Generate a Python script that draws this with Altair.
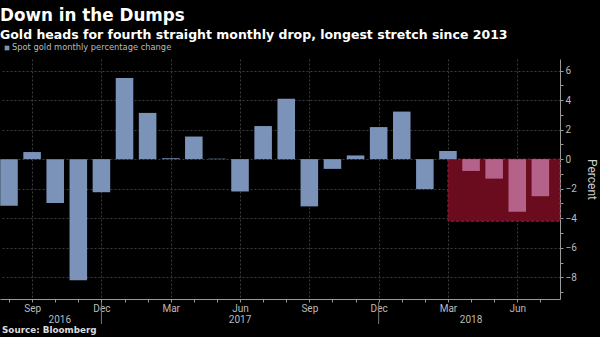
import altair as alt
import pandas as pd

# ---- data ----
months = ["Aug 2016", "Sep 2016", "Oct 2016", "Nov 2016", "Dec 2016",
          "Jan 2017", "Feb 2017", "Mar 2017", "Apr 2017", "May 2017", "Jun 2017",
          "Jul 2017", "Aug 2017", "Sep 2017", "Oct 2017", "Nov 2017", "Dec 2017",
          "Jan 2018", "Feb 2018", "Mar 2018", "Apr 2018", "May 2018", "Jun 2018", "Jul 2018"]
values = [-3.15, 0.48, -2.97, -8.2, -2.24,
          5.5, 3.13, 0.06, 1.53, 0.03, -2.19,
          2.24, 4.09, -3.2, -0.66, 0.25, 2.17,
          3.22, -2.03, 0.55, -0.8, -1.32, -3.56, -2.51]
streak = ["no"] * 20 + ["yes"] * 4
tick_labels = ["", "Sep", "", "", "Dec", "", "", "Mar", "", "", "Jun", "",
               "", "Sep", "", "", "Dec", "", "", "Mar", "", "", "Jun", ""]
years = ["2016", "2017", "2018"]
year_pos = [2.2, 10.0, 20.0]
year_breaks = [4, 16]
box_start = [19]
box_low = [-4.2]

X_MIN, X_MAX = -0.39, 23.85
Y_MIN, Y_MAX = -9.47, 6.78

df = pd.DataFrame({"i": list(range(len(months))), "month": months,
                   "value": values, "streak": streak})
df["lo"] = df["i"] - 0.38
df["hi"] = df["i"] + 0.38

xscale = alt.Scale(domain=[X_MIN, X_MAX], nice=False, zero=False)
yscale = alt.Scale(domain=[Y_MIN, Y_MAX], nice=False, zero=False)

label_expr = "[" + ",".join("'%s'" % t for t in tick_labels) + "][datum.value]"

xaxis = alt.Axis(values=list(range(len(months))), labelExpr=label_expr,
                 grid=True, gridColor="#3c3c3c", gridDash=[2, 2],
                 gridOpacity={"condition": {"test": "datum.value % 3 == 1", "value": 1}, "value": 0},
                 domainColor="#9a9a9a", tickColor="#9a9a9a", tickSize=3,
                 labelColor="#bbbbbb", labelFontSize=10, labelFont="Roboto",
                 labelPadding=1, labelFlush=False, labelOverlap=False, title=None)
yaxis = alt.Axis(orient="right", values=list(range(-9, 7)),
                 labelExpr="datum.value % 2 == 0 ? datum.label : ''",
                 grid=True, gridColor="#3c3c3c", gridDash=[2, 2],
                 gridOpacity={"condition": {"test": "datum.value % 2 == 0", "value": 1}, "value": 0},
                 domainColor="#9a9a9a", tickColor="#9a9a9a", tickSize=3,
                 labelColor="#bbbbbb", labelFontSize=10, labelFont="Roboto",
                 labelPadding=2, labelOverlap=False,
                 title="Percent", titleAngle=90, titleColor="#cccccc",
                 titleFontSize=12, titleFontWeight="normal", titleFont="Roboto",
                 titlePadding=8)

box_df = pd.DataFrame({"x0": box_start, "x1": [X_MAX], "y0": [0], "y1": box_low})
box = alt.Chart(box_df).mark_rect(color="#6a0c1e", stroke="#9a2040",
                                  strokeDash=[3, 2], strokeWidth=1).encode(
    x=alt.X("x0:Q", scale=xscale, axis=xaxis),
    x2="x1:Q",
    y=alt.Y("y0:Q", scale=yscale, axis=yaxis),
    y2="y1:Q",
)

bars = alt.Chart(df).mark_bar().encode(
    x=alt.X("lo:Q", scale=xscale, axis=xaxis),
    x2="hi:Q",
    y=alt.Y("value:Q", scale=yscale, axis=yaxis),
    y2=alt.datum(0),
    color=alt.Color("streak:N", scale=alt.Scale(domain=["no", "yes"],
                                                range=["#7b93b8", "#b5628a"]), legend=None),
)

sep_df = pd.DataFrame({"x": year_breaks})
seps = alt.Chart(sep_df).mark_rule(color="#777777", strokeWidth=1).encode(
    x=alt.X("x:Q", scale=xscale, axis=xaxis),
    y=alt.value(243), y2=alt.value(265),
)

yr_df = pd.DataFrame({"year": years, "x": year_pos})
yr = alt.Chart(yr_df).mark_text(color="#bbbbbb", fontSize=10, font="Roboto",
                                baseline="alphabetic", align="center").encode(
    x=alt.X("x:Q", scale=xscale, axis=xaxis),
    y=alt.value(264),
    text="year:N",
)

title_df = pd.DataFrame({"t": ["Down in the Dumps"]})
title = alt.Chart(title_df).mark_text(color="white", fontSize=16.8, fontWeight="bold",
                                      font="DejaVu Sans", align="left", baseline="alphabetic").encode(
    x=alt.value(0), y=alt.value(-38), text="t:N")

sub_df = pd.DataFrame({"t": ["Gold heads for fourth straight monthly drop, longest stretch since 2013"]})
sub = alt.Chart(sub_df).mark_text(color="white", fontSize=12.5, fontWeight="bold",
                                  font="DejaVu Sans", align="left", baseline="alphabetic").encode(
    x=alt.value(0), y=alt.value(-20), text="t:N")

leg_df = pd.DataFrame({"t": ["Spot gold monthly percentage change"]})
leg_sq = alt.Chart(leg_df).mark_square(color="#7b93b8", size=22, opacity=1).encode(
    x=alt.value(7), y=alt.value(-11))
leg_tx = alt.Chart(leg_df).mark_text(color="#bbbbbb", fontSize=8.3, font="DejaVu Sans",
                                     align="left", baseline="middle").encode(
    x=alt.value(12), y=alt.value(-11), text="t:N")

src_df = pd.DataFrame({"t": ["Source: Bloomberg"]})
src = alt.Chart(src_df).mark_text(color="#dddddd", fontSize=8.8, fontWeight="bold",
                                  font="DejaVu Sans", align="left", baseline="alphabetic").encode(
    x=alt.value(2), y=alt.value(274), text="t:N")

chart = alt.layer(box, bars, seps, yr, title, sub, leg_sq, leg_tx, src).properties(
    width=560, height=240,
    padding={"left": 0, "top": 59, "right": 40, "bottom": 38},
    autosize=alt.AutoSizeParams(type="none"),
).configure(background="#000000").configure_view(strokeWidth=0)

chart.save("out.html", embed_options={"renderer": "svg", "actions": False})
